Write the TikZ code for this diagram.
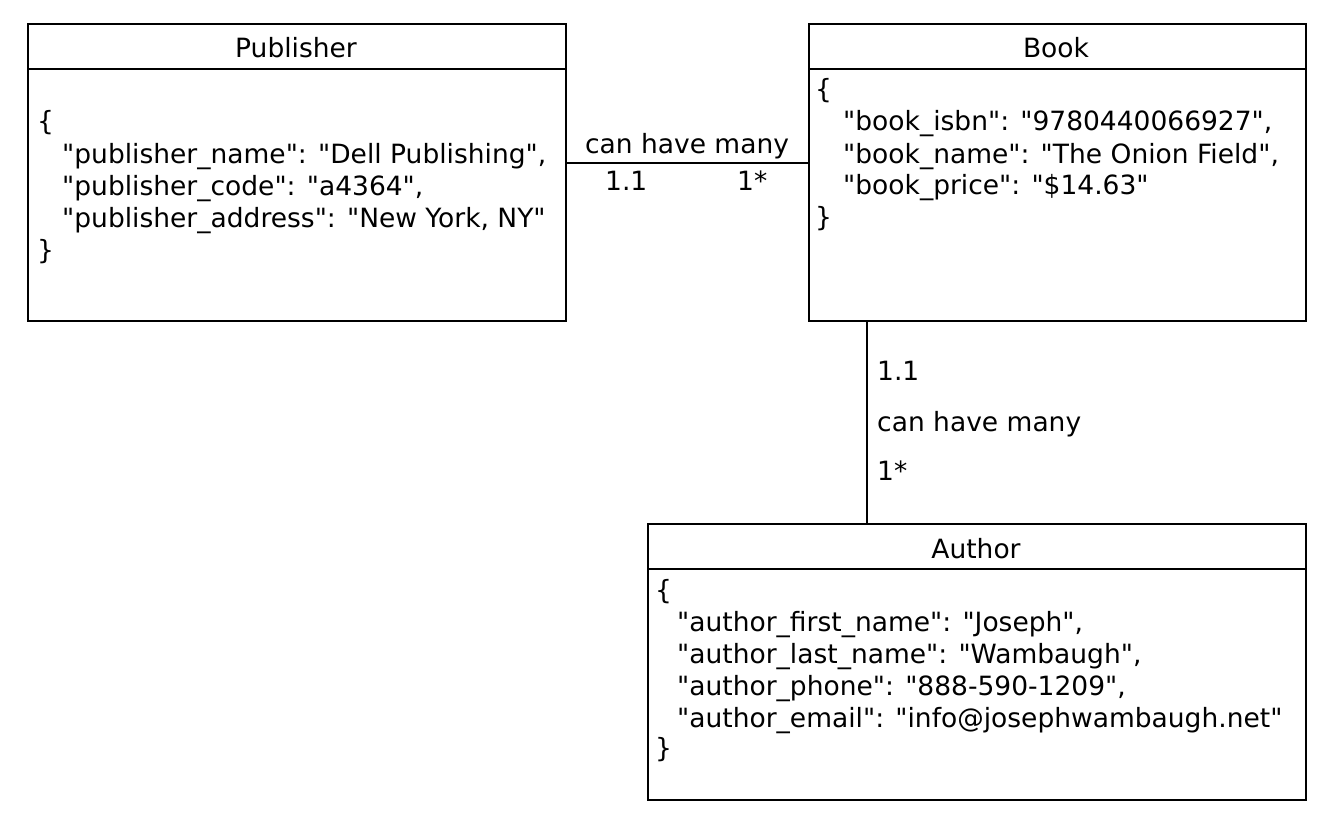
\documentclass[tikz,border=0pt]{standalone}
\usepackage{fontspec}
\newfontfamily\dvfont{DejaVu Sans}
\begin{document}
\begin{tikzpicture}[x=1pt,y=-1pt,
  box/.style={draw=black, line width=1.6pt, rectangle, inner sep=0pt, anchor=north west},
  ttl/.style={font=\dvfont\fontsize{26.5}{32}\selectfont, inner sep=0pt, anchor=base},
  txt/.style={font=\dvfont\fontsize{26.5}{32}\selectfont, inner sep=0pt, anchor=base west},
  conn/.style={draw=black, line width=1.6pt}]
\fill[white] (0,0) rectangle (1332,832);
\useasboundingbox (0,0) rectangle (1332,832);

% boxes
\node[box, minimum width=538pt, minimum height=297pt] (pub) at (27,23) {};
\node[box, minimum width=497pt, minimum height=297pt] (book) at (808,23) {};
\node[box, minimum width=658pt, minimum height=276pt] (auth) at (647,523) {};

% header separators
\draw[conn] ([yshift=-46pt]pub.north west) -- ([yshift=-46pt]pub.north east);
\draw[conn] ([yshift=-46pt]book.north west) -- ([yshift=-46pt]book.north east);
\draw[conn] ([yshift=-46pt]auth.north west) -- ([yshift=-46pt]auth.north east);

% titles
\node[ttl] (pubT) at (296,58) {Publisher};
\node[ttl] (bookT) at (1056,58) {Book};
\node[ttl] (authT) at (976,558) {Author};

% publisher body
\node[txt] (p0) at (37,131) {\{};
\node[txt] (p1) at (62,163) {"publisher\_name": "Dell Publishing",};
\node[txt] (p2) at (62,195) {"publisher\_code": "a4364",};
\node[txt] (p3) at (62,227) {"publisher\_address": "New York, NY"};
\node[txt] (p4) at (37,259) {\}};

% book body
\node[txt] (b0) at (815,99) {\{};
\node[txt] (b1) at (843,131) {"book\_isbn": "9780440066927",};
\node[txt] (b2) at (843,163) {"book\_name": "The Onion Field",};
\node[txt] (b3) at (843,194) {"book\_price": "\$14.63"};
\node[txt] (b4) at (815,226) {\}};

% author body
\node[txt] (a0) at (655,599) {\{};
\node[txt] (a1) at (677,631) {"author\_first\_name": "Joseph",};
\node[txt] (a2) at (677,663) {"author\_last\_name": "Wambaugh",};
\node[txt] (a3) at (677,695) {"author\_phone": "888-590-1209",};
\node[txt] (a4) at (677,727) {"author\_email": "info@josephwambaugh.net"};
\node[txt] (a5) at (655,757) {\}};

% connectors
\coordinate (hc) at (0,163);
\coordinate (vc) at (867,0);
\draw[conn] (pub.east |- hc) -- (book.west |- hc);
\draw[conn] (book.south -| vc) -- (auth.north -| vc);

% connector labels
\node[ttl] (l1) at (687,153) {can have many};
\node[txt] (l2) at (605,190) {1.1};
\node[txt] (l3) at (737,190) {1*};
\node[txt] (l4) at (877,380) {1.1};
\node[txt] (l5) at (877,431) {can have many};
\node[txt] (l6) at (877,480) {1*};
\end{tikzpicture}
\end{document}
